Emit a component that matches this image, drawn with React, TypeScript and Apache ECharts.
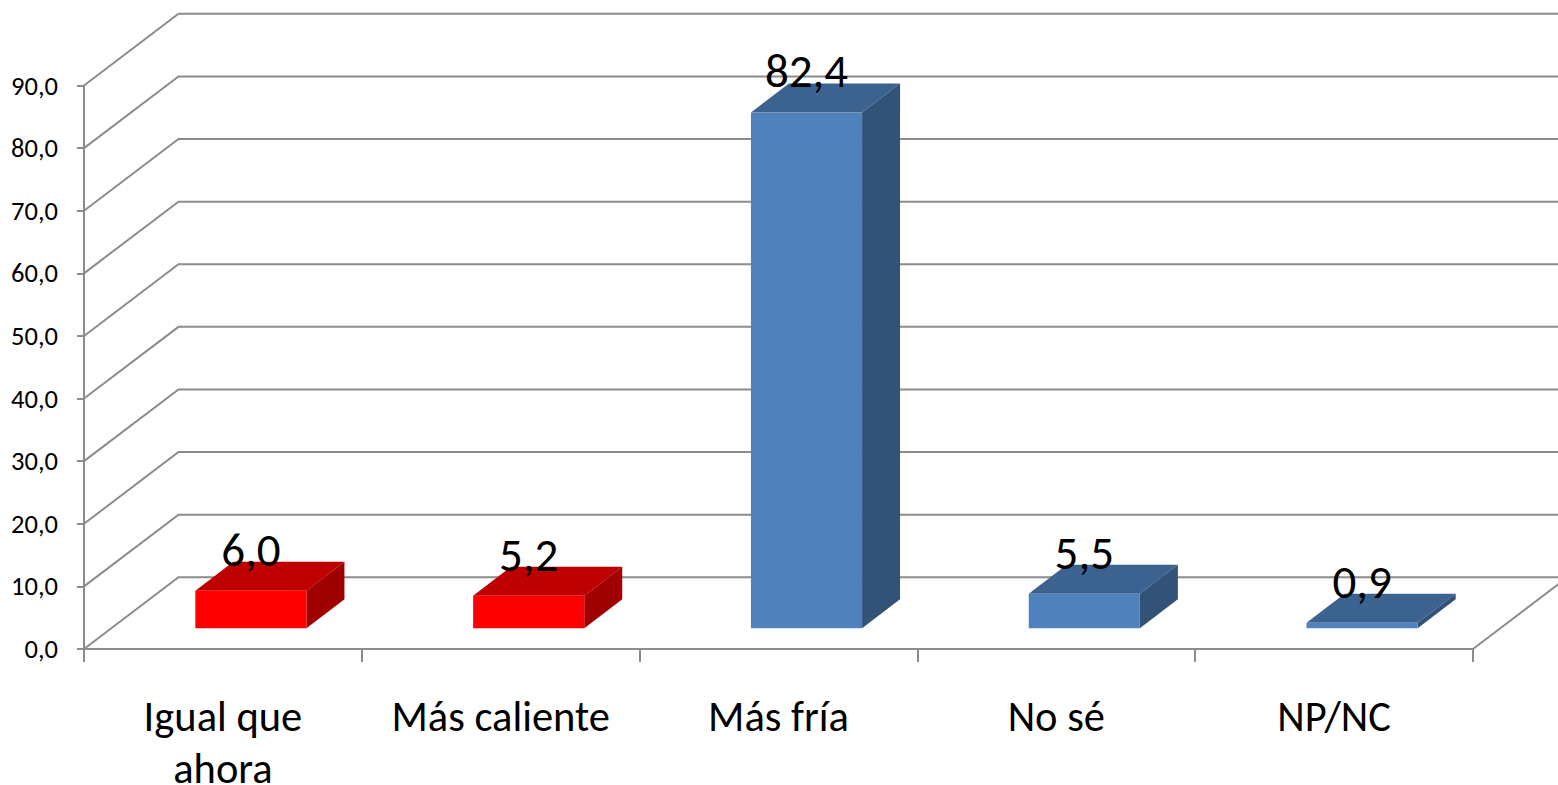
import React, { useEffect, useRef } from "react";
import * as echarts from "echarts";

const categories = ["Igual que\nahora", "Más caliente", "Más fría", "No sé", "NP/NC"];
const warmValues: [number, number][] = [[0, 6.0], [1, 5.2]];
const coldValues: [number, number][] = [[2, 82.4], [3, 5.5], [4, 0.9]];
const gridValues = [0, 10, 20, 30, 40, 50, 60, 70, 80, 90];

const FONT = "Carlito, Lato, sans-serif";
const LINE = "#8c8c8c";
const WALL_DX = 94.5;
const WALL_DY = -71.7;
const BAR_SHIFT_X = 28;
const BAR_SHIFT_Y = -20.7;
const BAR_DX = 38;
const BAR_DY = -29;
const BAR_RATIO = 0.4;

const fmt = (v: number) => v.toFixed(1).replace(".", ",");

function barSeries(name: string, data: [number, number][], front: string, top: string, side: string) {
  return {
    name,
    type: "custom",
    z: 5,
    data,
    renderItem: (_: any, api: any) => {
      const idx = api.value(0);
      const val = api.value(1);
      const band = api.size([1, 0])[0];
      const w = band * BAR_RATIO;
      const base = api.coord([idx, 0]);
      const head = api.coord([idx, val]);
      const l = base[0] + BAR_SHIFT_X - w / 2;
      const r = l + w;
      const b = base[1] + BAR_SHIFT_Y;
      const t = head[1] + BAR_SHIFT_Y;
      return {
        type: "group",
        children: [
          { type: "polygon", shape: { points: [[l, t], [r, t], [r + BAR_DX, t + BAR_DY], [l + BAR_DX, t + BAR_DY]] }, style: { fill: top } },
          { type: "polygon", shape: { points: [[r, t], [r + BAR_DX, t + BAR_DY], [r + BAR_DX, b + BAR_DY], [r, b]] }, style: { fill: side } },
          { type: "rect", shape: { x: l, y: t, width: w, height: b - t }, style: { fill: front } },
          {
            type: "text",
            x: (l + r) / 2,
            y: t - 41,
            style: { text: fmt(val), fill: "#000", fontFamily: FONT, fontSize: 47, align: "center", verticalAlign: "middle" },
          },
        ],
      };
    },
  };
}

export default function App() {
  const ref = useRef<HTMLDivElement>(null);
  useEffect(() => {
    const chart = echarts.init(ref.current!, undefined, { renderer: "svg" });
    chart.setOption({
      animation: false,
      backgroundColor: "#fff",
      grid: { left: 84, right: 85, top: 85.5, bottom: 136, outerBoundsMode: "none" },
      xAxis: {
        type: "category",
        data: categories,
        boundaryGap: true,
        axisLine: { show: true, lineStyle: { color: LINE, width: 2 } },
        axisTick: { show: true, length: 13, lineStyle: { color: LINE, width: 2 } },
        axisLabel: { color: "#000", fontFamily: FONT, fontSize: 42.5, lineHeight: 52, margin: 41, interval: 0 },
      },
      yAxis: {
        type: "value",
        min: 0,
        max: 90,
        interval: 10,
        splitLine: { show: false },
        axisLine: { show: true, lineStyle: { color: LINE, width: 2 } },
        axisTick: { show: true, length: 7, lineStyle: { color: LINE, width: 2 } },
        axisLabel: { color: "#000", fontFamily: FONT, fontSize: 26.5, margin: 26, formatter: (v: number) => fmt(v) },
      },
      series: [
        {
          name: "walls",
          type: "custom",
          z: 1,
          data: gridValues.map((v) => [0, v]),
          renderItem: (_: any, api: any) => {
            const val = api.value(1);
            const band = api.size([1, 0])[0];
            const p = api.coord([0, val]);
            const x0 = p[0] - band / 2;
            const x1 = x0 + band * categories.length;
            const children: any[] = [
              {
                type: "polyline",
                shape: { points: [[x0, p[1]], [x0 + WALL_DX, p[1] + WALL_DY], [x1 + WALL_DX, p[1] + WALL_DY]] },
                style: { stroke: LINE, lineWidth: 2, fill: "none" },
              },
            ];
            if (val === 0) {
              children.push({
                type: "line",
                shape: { x1: x1, y1: p[1], x2: x1 + WALL_DX, y2: p[1] + WALL_DY },
                style: { stroke: LINE, lineWidth: 2 },
              });
            }
            return { type: "group", children };
          },
        },
        barSeries("warm", warmValues, "#FF0000", "#BF0000", "#A00000"),
        barSeries("cold", coldValues, "#4F81BD", "#3C6390", "#325278"),
      ],
    });
    return () => chart.dispose();
  }, []);
  return <div ref={ref} style={{ position: "absolute", left: 0, top: 0, width: 1558, height: 785 }} />;
}
